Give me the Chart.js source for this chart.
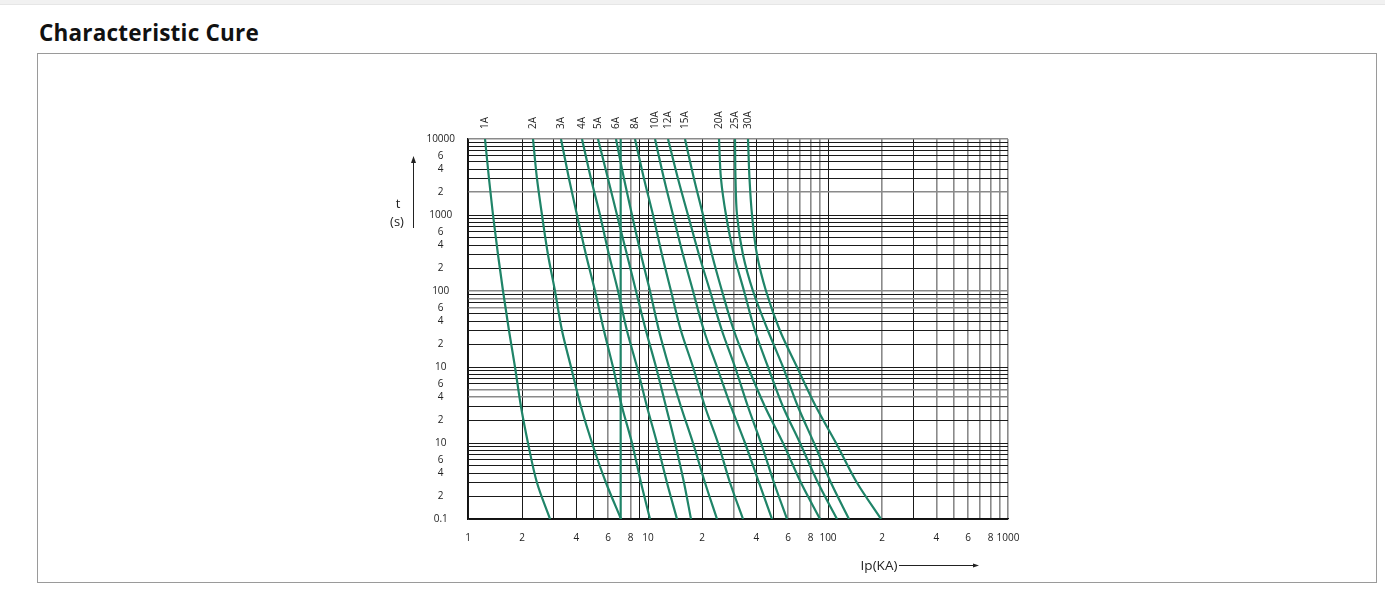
<!DOCTYPE html>
<html><head><meta charset="utf-8">
<script src="https://cdn.jsdelivr.net/npm/chart.js@4.4.1/dist/chart.umd.min.js"></script>
<style>
html,body{margin:0;padding:0;background:#fff;width:1385px;height:591px;overflow:hidden;}
#topband{position:absolute;left:0;top:0;width:1385px;height:4px;background:#f1f1f1;border-bottom:1px solid #e6e6e6;}
#title{position:absolute;left:39px;top:18px;font-family:'Open Sans',sans-serif;font-weight:700;font-size:22.5px;letter-spacing:0.2px;line-height:30px;color:#111;white-space:nowrap;}
#box{position:absolute;left:37px;top:53px;width:1340px;height:530px;box-sizing:border-box;border:1px solid #9a9a9a;}
#wrap{position:absolute;left:0;top:0;width:1385px;height:591px;}
</style></head><body>
<div id="topband"></div>
<div id="title">Characteristic Cure</div>
<div id="box"></div>
<div id="wrap"><canvas id="c" width="1385" height="591"></canvas></div>
<script>
// ---- data (time in s, current in kA) ----
const times = [10000, 3000, 1000, 300, 100, 30, 10, 3, 1, 0.3, 0.1];
const fuseNames = ['1A','2A','3A','4A','5A','6A','8A','10A','12A','15A','20A','25A','30A'];
const current1A  = [1.243, 1.308, 1.377, 1.468, 1.565, 1.690, 1.824, 1.970, 2.154, 2.417, 2.855];
const current2A  = [2.297, 2.417, 2.577, 2.783, 3.043, 3.330, 3.735, 4.244, 4.887, 5.843, 7.079];
const current3A  = [3.286, 3.640, 4.032, 4.524, 5.077, 5.695, 6.391, 7.170, 8.149, 9.145, 10.26];
const current4A  = [4.299, 4.823, 5.412, 6.072, 6.813, 7.643, 8.685, 9.873, 11.22, 12.75, 14.49];
const current5A  = [5.275, 5.995, 6.726, 7.643, 8.577, 9.747, 11.08, 12.59, 14.13, 15.85, 17.33];
const current6A  = [6.640, 7.356, 8.149, 9.145, 10.26, 11.51, 13.08, 15.25, 17.78, 20.74, 24.17];
const current8A  = [8.467, 9.502, 10.66, 11.96, 13.42, 15.25, 17.78, 20.74, 24.48, 28.56, 33.71];
const current10A = [10.94, 12.27, 13.77, 15.65, 17.78, 20.47, 24.17, 28.92, 34.58, 41.38, 48.86];
const current12A = [12.92, 14.68, 16.68, 19.20, 22.11, 25.77, 30.43, 35.94, 42.45, 50.12, 59.18];
const current15A = [16.05, 18.01, 20.21, 22.68, 25.77, 30.04, 35.94, 44.67, 56.23, 70.79, 90.29];
const current20A = [24.80, 25.44, 27.12, 30.04, 34.15, 39.30, 46.42, 56.23, 69.90, 87.99, 112.2];
const current25A = [30.43, 30.63, 31.22, 33.71, 38.31, 46.42, 56.23, 68.13, 83.59, 103.9, 130.8];
const current30A = [35.94, 36.64, 37.83, 40.32, 45.25, 54.12, 67.27, 85.77, 110.8, 144.9, 197.0];
const fuseCurrents = [current1A,current2A,current3A,current4A,current5A,current6A,current8A,current10A,current12A,current15A,current20A,current25A,current30A];
const verticalLineCurrent = [7.05, 7.05];
const verticalLineTimes = [10000, 0.1];

// ---- tick labels ----
const xLabelValues = [1,2,4,6,8,10,20,40,60,80,100,200,400,600,800,1000];
const xLabelTexts  = ['1','2','4','6','8','10','2','4','6','8','100','2','4','6','8','1000'];
const yLabelValues = [10000,6000,4000,2000,1000,600,400,200,100,60,40,20,10,6,4,2,1,0.6,0.4,0.2,0.1];
const yLabelTexts  = ['10000','6','4','2','1000','6','4','2','100','6','4','2','10','6','4','2','10','6','4','2','0.1'];

function gridValues(minExp, maxExp){
  const out=[];
  for(let e=minExp;e<maxExp;e++){ for(let s=1;s<=9;s++){ out.push(Number((s*Math.pow(10,e)).toPrecision(6))); } }
  out.push(Math.pow(10,maxExp));
  return out;
}
const xGridValues = gridValues(0,3);
const yGridValues = gridValues(-1,4);

function same(a,b){ return Math.abs(Math.log10(a)-Math.log10(b))<1e-6; }
function labelFor(v, vals, texts){ for(let i=0;i<vals.length;i++){ if(same(v,vals[i])) return texts[i]; } return ''; }

// ---- styles ----
const GREEN = '#1f8468';
const GRID_DARK = '#1a1a1a', GRID_GRAY = '#8a8a8a';
const xGrayLines = [6,8,30,60,70,80,90,200,400,500,600,700,800,900,1000];
const yGrayLines = [10000,2000,100,80,60,5,4];
function inList(v, list){ return list.some(l=>same(v,l)); }

Chart.defaults.font.family = '"Open Sans", sans-serif';

const datasets = fuseNames.map((n,i)=>({
  label:n,
  data: times.map((t,j)=>({x:fuseCurrents[i][j], y:t})),
  borderColor:GREEN, borderWidth:2.2, pointRadius:0, fill:false,
  cubicInterpolationMode:'monotone'
}));
datasets.push({
  label:'',
  data: verticalLineTimes.map((t,j)=>({x:verticalLineCurrent[j], y:t})),
  borderColor:GREEN, borderWidth:2.2, pointRadius:0, fill:false, tension:0
});

const annot = {
  id:'annot',
  afterDraw(chart){
    const {ctx, chartArea:a} = chart;
    const xs = chart.scales.x;
    ctx.save();
    ctx.fillStyle = '#222';
    ctx.font = '10px "Open Sans", sans-serif';
    chart.data.datasets.forEach(ds=>{
      if(!ds.label) return;
      const px = xs.getPixelForValue(ds.data[0].x);
      ctx.save();
      ctx.translate(px, a.top-10);
      ctx.rotate(-Math.PI/2);
      ctx.textAlign='left'; ctx.textBaseline='middle';
      ctx.fillText(ds.label,0,0);
      ctx.restore();
    });
    // y axis title with arrow
    ctx.font = '13px "Open Sans", sans-serif';
    ctx.textAlign='center'; ctx.textBaseline='middle';
    ctx.fillText('t', a.left-70, a.top+65);
    ctx.fillText('(s)', a.left-71, a.top+83);
    ctx.strokeStyle='#222'; ctx.lineWidth=1;
    ctx.beginPath(); ctx.moveTo(a.left-54.5, a.top+89); ctx.lineTo(a.left-54.5, a.top+21); ctx.stroke();
    ctx.beginPath(); ctx.moveTo(a.left-54.5, a.top+17); ctx.lineTo(a.left-57, a.top+24); ctx.lineTo(a.left-52, a.top+24); ctx.closePath(); ctx.fill();
    // x axis title with arrow
    ctx.font = '13.5px "Open Sans", sans-serif';
    ctx.fillText('Ip(KA)', a.left+411, a.bottom+47);
    ctx.beginPath(); ctx.moveTo(a.left+431, a.bottom+46.5); ctx.lineTo(a.left+506, a.bottom+46.5); ctx.stroke();
    ctx.beginPath(); ctx.moveTo(a.left+511, a.bottom+46.5); ctx.lineTo(a.left+505, a.bottom+44.5); ctx.lineTo(a.left+505, a.bottom+48.5); ctx.closePath(); ctx.fill();
    ctx.restore();
  }
};

new Chart(document.getElementById('c'), {
  type:'line',
  data:{datasets},
  options:{
    responsive:false, devicePixelRatio:1, animation:false, indexAxis:'y',
    layout:{ padding:{left:408, top:139, right:377, bottom:32}, autoPadding:false },
    plugins:{ legend:{display:false}, tooltip:{enabled:false} },
    scales:{
      x:{
        type:'logarithmic', min:1, max:1000, position:'bottom',
        afterBuildTicks: ax=>{ ax.ticks = xGridValues.map(v=>({value:v})); },
        afterFit: ax=>{ ax.height = 40; },
        grid:{ drawTicks:false,
          color: c=> (c.tick && inList(c.tick.value, xGrayLines)) ? GRID_GRAY : GRID_DARK,
          lineWidth: c=> (c.tick && inList(c.tick.value, xGrayLines)) ? 1.6 : 1 },
        border:{ display:true, color:'#111', width:1.3 },
        ticks:{ autoSkip:false, maxRotation:0, minRotation:0, padding:13, color:'#222', font:{size:10},
          callback: v=>labelFor(v, xLabelValues, xLabelTexts) }
      },
      y:{
        type:'logarithmic', min:0.1, max:10000, position:'left',
        afterBuildTicks: ax=>{ ax.ticks = yGridValues.map(v=>({value:v})); },
        afterFit: ax=>{ ax.width = 60; },
        grid:{ drawTicks:false,
          color: c=> (c.tick && inList(c.tick.value, yGrayLines)) ? GRID_GRAY : GRID_DARK,
          lineWidth: c=> (c.tick && inList(c.tick.value, yGrayLines)) ? 1.6 : 1 },
        border:{ display:true, color:'#111', width:1.3 },
        ticks:{ autoSkip:false, crossAlign:'center', padding:13, color:'#222', font:{size:10},
          callback: v=>labelFor(v, yLabelValues, yLabelTexts) }
      }
    }
  },
  plugins:[annot]
});
</script></body></html>
